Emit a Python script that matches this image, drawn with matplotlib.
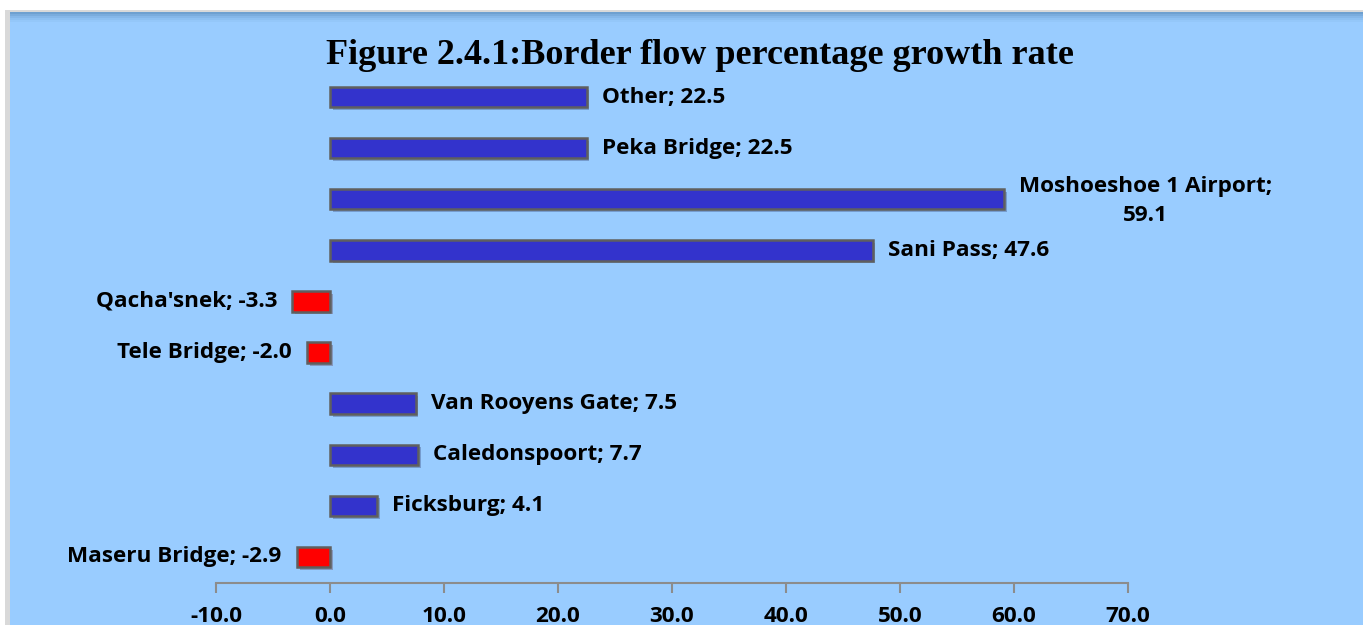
import matplotlib.pyplot as plt
import matplotlib.patheffects as pe
from matplotlib.patches import Rectangle

crossings = ['Maseru Bridge', 'Ficksburg', 'Caledonspoort', 'Van Rooyens Gate',
             'Tele Bridge', "Qacha'snek", 'Sani Pass', 'Moshoeshoe 1 Airport',
             'Peka Bridge', 'Other']
growth = [-2.9, 4.1, 7.7, 7.5, -2.0, -3.3, 47.6, 59.1, 22.5, 22.5]
xticks = [-10, 0, 10, 20, 30, 40, 50, 60, 70]

W, H = 1363, 625
fig = plt.figure(figsize=(W / 100, H / 100), dpi=100)
fig.patch.set_facecolor('white')

# outer frame: grey edge + light blue panel
fig.patches.append(Rectangle((5 / W, 0), 1, 1 - 10 / H, transform=fig.transFigure,
                             facecolor='#d9d9d9', edgecolor='none', zorder=-3))
fig.patches.append(Rectangle((10 / W, 0), 1, 1 - 12 / H, transform=fig.transFigure,
                             facecolor='#99ccff', edgecolor='none', zorder=-2))
for i, a in enumerate([0.35, 0.25, 0.16, 0.09, 0.04]):
    fig.patches.append(Rectangle((10 / W, 1 - (12 + 2 * (i + 1)) / H), 1, 2 / H,
                                 transform=fig.transFigure, facecolor='#1f4e79',
                                 alpha=a, edgecolor='none', zorder=-1))

ax = fig.add_axes([216 / W, 1 - 582.5 / H, (1128 - 216) / W, 511 / H])
ax.set_facecolor('none')

colors = ['#ff0000' if v < 0 else '#3333cc' for v in growth]
bars = ax.barh(range(len(crossings)), growth, height=0.4, color=colors,
               edgecolor='#5f5f5f', linewidth=1.8, zorder=3)
for b in bars:
    b.set_path_effects([pe.SimplePatchShadow(offset=(2, -2), alpha=0.25), pe.Normal()])

lab_font = dict(fontfamily=['Open Sans', 'DejaVu Sans'], fontweight='bold', fontsize=16.2)
for i, (name, v) in enumerate(zip(crossings, growth)):
    txt = f'{name}; {v:.1f}'
    if name == 'Moshoeshoe 1 Airport':
        txt = f'{name};\n{v:.1f}'
        ax.annotate(txt, (v, i), xytext=(11, -1), textcoords='offset points',
                    ha='left', va='center', ma='center', linespacing=1.5, **lab_font)
    elif v < 0:
        ax.annotate(txt, (v, i), xytext=(-11, 0), textcoords='offset points',
                    ha='right', va='center', **lab_font)
    else:
        ax.annotate(txt, (v, i), xytext=(11, 0), textcoords='offset points',
                    ha='left', va='center', **lab_font)

ax.set_xlim(-10, 70)
ax.set_ylim(-0.5, len(crossings) - 0.5)
ax.set_xticks(xticks)
ax.set_xticklabels([f'{t:.1f}' for t in xticks], fontfamily=['Open Sans', 'DejaVu Sans'],
                   fontweight='bold', fontsize=16.2)
ax.tick_params(axis='x', direction='out', length=7, width=1.5, color='#8c8c8c', pad=10)
ax.set_yticks([])
for s in ['top', 'right', 'left']:
    ax.spines[s].set_visible(False)
ax.spines['bottom'].set_color('#8c8c8c')
ax.spines['bottom'].set_linewidth(1.5)

fig.text(700 / W, 1 - 55 / H, 'Figure 2.4.1:Border flow percentage growth rate',
         ha='center', va='center', fontfamily=['Liberation Serif', 'DejaVu Serif'],
         fontweight='bold', fontsize=26)

fig.savefig('out.png', dpi=100)
